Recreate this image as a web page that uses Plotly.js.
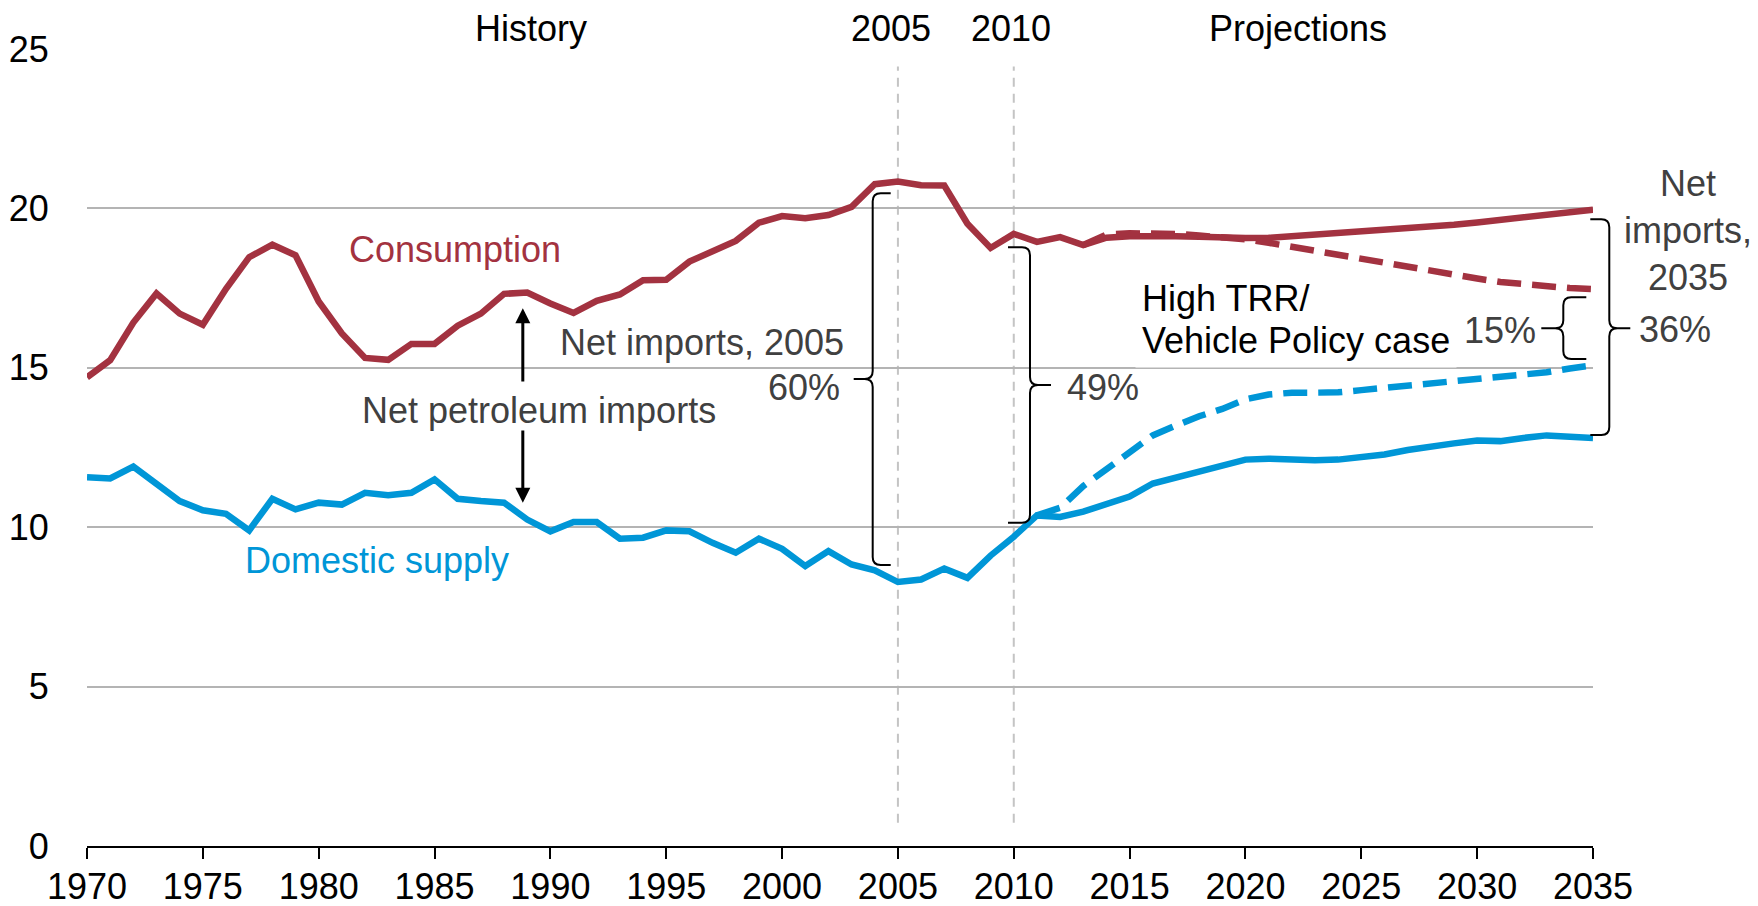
<!DOCTYPE html>
<html>
<head>
<meta charset="utf-8">
<script src="https://cdn.plot.ly/plotly-3.0.1.min.js"></script>
<style>
html,body{margin:0;padding:0;background:#ffffff;}
#chart{width:1758px;height:906px;}
</style>
</head>
<body>
<div id="chart"></div>
<script>
// ---------------- DATA ----------------
const years = [1970,1971,1972,1973,1974,1975,1976,1977,1978,1979,
  1980,1981,1982,1983,1984,1985,1986,1987,1988,1989,
  1990,1991,1992,1993,1994,1995,1996,1997,1998,1999,
  2000,2001,2002,2003,2004,2005,2006,2007,2008,2009,
  2010,2011,2012,2013,2014,2015,2016,2017,2018,2019,
  2020,2021,2022,2023,2024,2025,2026,2027,2028,2029,
  2030,2031,2032,2033,2034,2035];

const consumption = [14.70,15.24,16.42,17.33,16.70,16.35,17.48,18.47,18.86,18.53,
  17.08,16.08,15.31,15.25,15.75,15.75,16.32,16.70,17.32,17.36,
  17.02,16.72,17.10,17.30,17.75,17.76,18.33,18.67,18.98,19.55,
  19.76,19.69,19.79,20.05,20.76,20.84,20.73,20.72,19.52,18.76,
  19.20,18.95,19.10,18.85,19.08,19.13,19.15,19.13,19.11,19.08,
  19.07,19.08,19.13,19.16,19.20,19.25,19.31,19.38,19.44,19.49,
  19.56,19.63,19.70,19.78,19.87,19.96];

const domesticSupply = [11.57,11.53,11.90,11.34,10.82,10.53,10.42,9.90,10.89,10.56,
  10.77,10.71,11.08,11.00,11.08,11.50,10.89,10.82,10.77,10.24,
  9.87,10.16,10.16,9.64,9.67,9.90,9.87,9.51,9.20,9.64,
  9.32,8.78,9.25,8.83,8.65,8.28,8.36,8.70,8.41,9.11,
  9.70,10.37,10.32,10.49,10.70,10.96,11.37,11.55,11.76,11.95,
  12.12,12.15,12.12,12.10,12.12,12.18,12.28,12.42,12.54,12.63,
  12.72,12.70,12.80,12.88,12.84,12.80];

// High TRR / Vehicle Policy case
const yearsSupplyHigh = [2011,2012,2013,2014,2015,2016,2017,2018,2019,2020,
  2021,2022,2023,2024,2025,2026,2027,2028,2029,2030,
  2031,2032,2033,2034,2035];
const supplyHigh = [10.37,10.61,11.29,11.81,12.33,12.88,13.19,13.48,13.71,14.01,
  14.16,14.22,14.22,14.23,14.30,14.37,14.42,14.48,14.55,14.63,
  14.72,14.79,14.86,14.98,15.08];

const yearsConsHigh = [2013,2014,2015,2016,2017,2018,2019,2020,
  2021,2022,2023,2024,2025,2026,2027,2028,2029,2030,
  2031,2032,2033,2034,2035];
const consumptionHigh = [18.85,19.18,19.22,19.23,19.20,19.15,19.10,19.03,
  18.92,18.79,18.67,18.55,18.42,18.30,18.17,18.04,17.91,17.80,
  17.69,17.61,17.55,17.50,17.47];

const xTickVals = [1970,1975,1980,1985,1990,1995,2000,2005,2010,2015,2020,2025,2030,2035];
const yTickVals = [0,5,10,15,20,25];

// ---------------- STYLE ----------------
const RED = '#A33240';
const BLUE = '#0096D7';
const GRAY_TXT = '#404040';
const FONT = 'Liberation Sans, Arial, sans-serif';
const FS = 36;

// plot area in pixels (from margins)
const PL = 87, PR = 1593, PT = 49, PB = 846;
const W = 1758, H = 906;
function px(x){ return (x - PL) / (PR - PL); }
function py(y){ return (PB - y) / (PB - PT); }

// ---------------- TRACES ----------------
const traces = [
  {x: years, y: consumption, type: 'scatter', mode: 'lines',
   line: {color: RED, width: 6.5}, hoverinfo: 'skip'},
  {x: years, y: domesticSupply, type: 'scatter', mode: 'lines',
   line: {color: BLUE, width: 6.5}, hoverinfo: 'skip'},
  {x: yearsConsHigh, y: consumptionHigh, type: 'scatter', mode: 'lines',
   line: {color: RED, width: 6.5, dash: '24px,11px'}, hoverinfo: 'skip'},
  {x: yearsSupplyHigh, y: supplyHigh, type: 'scatter', mode: 'lines',
   line: {color: BLUE, width: 6.5, dash: '24px,11px'}, hoverinfo: 'skip'}
];

// ---------------- ANNOTATIONS ----------------
function txt(text, x, y, color, opts){
  return Object.assign({
    text: text, xref: 'paper', yref: 'paper', x: px(x), y: py(y),
    xanchor: 'center', yanchor: 'middle', showarrow: false,
    font: {family: FONT, size: FS, color: color}
  }, opts || {});
}

const annotations = [
  txt('History', 531, 28, '#000000'),
  txt('2005', 891, 28, '#000000'),
  txt('2010', 1011, 28, '#000000'),
  txt('Projections', 1298, 28, '#000000'),
  txt('Consumption', 455, 250, RED),
  txt('Domestic supply', 377, 560, BLUE),
  txt('Net imports, 2005', 702, 342, GRAY_TXT),
  txt('60%', 804, 387, GRAY_TXT),
  txt('Net petroleum imports', 539, 410, GRAY_TXT),
  txt('49%', 1103, 387, GRAY_TXT),
  txt('Vehicle Policy case', 1135, 341, '#000000', {xanchor: 'left', bgcolor: '#ffffff', borderpad: 6}),
  txt('High TRR/', 1140, 298, '#000000', {xanchor: 'left'}),
  txt('15%', 1500, 330, GRAY_TXT),
  txt('36%', 1675, 329, GRAY_TXT),
  txt('Net<br>imports,<br>2035', 1688, 231, GRAY_TXT),
  // double arrow (two halves around the label)
  {text: '', xref: 'x', yref: 'y', axref: 'x', ayref: 'y',
   x: 1988.81, y: 16.87, ax: 1988.81, ay: 14.52,
   showarrow: true, arrowhead: 2, arrowsize: 1, arrowwidth: 3, arrowcolor: '#000000',
   standoff: 0, startstandoff: 0},
  {text: '', xref: 'x', yref: 'y', axref: 'x', ayref: 'y',
   x: 1988.81, y: 10.77, ax: 1988.81, ay: 13.08,
   showarrow: true, arrowhead: 2, arrowsize: 1, arrowwidth: 3, arrowcolor: '#000000',
   standoff: 0, startstandoff: 0}
];

// ---------------- SHAPES ----------------
function P(x, y){ return px(x).toFixed(5) + ',' + py(y).toFixed(5); }
// hookDir: +1 => hooks point right, tip points left ( "{" ); -1 => "}"
function brace(xLine, yTop, yBot, yMid, hookDir, hookLen, tipLen){
  const r = 8;
  const d = hookDir;
  const p = [
    'M', P(xLine + d*hookLen, yTop),
    'L', P(xLine + d*r, yTop),
    'Q', P(xLine, yTop), P(xLine, yTop + r),
    'L', P(xLine, yMid - r),
    'Q', P(xLine, yMid), P(xLine - d*r, yMid),
    'L', P(xLine - d*tipLen, yMid),
    'M', P(xLine - d*r, yMid),
    'Q', P(xLine, yMid), P(xLine, yMid + r),
    'L', P(xLine, yBot - r),
    'Q', P(xLine, yBot), P(xLine + d*r, yBot),
    'L', P(xLine + d*hookLen, yBot)
  ].join(' ');
  return {type: 'path', xref: 'paper', yref: 'paper', path: p,
          line: {color: '#000000', width: 2}, layer: 'above'};
}

const shapes = [
  {type: 'line', xref: 'x', yref: 'y', x0: 2005, x1: 2005, y0: 0.73, y1: 24.45,
   line: {color: '#c4c4c4', width: 2, dash: '9px,7px'}, layer: 'below'},
  {type: 'line', xref: 'x', yref: 'y', x0: 2010, x1: 2010, y0: 0.73, y1: 24.45,
   line: {color: '#c4c4c4', width: 2, dash: '9px,7px'}, layer: 'below'},
  brace(872.7, 193.3, 565, 379, +1, 18, 19),
  brace(1030, 247.3, 522.7, 385, -1, 22, 21),
  brace(1563.3, 297.3, 359, 328.3, +1, 23, 22),
  brace(1609.3, 219.3, 435, 328.3, -1, 19, 21)
];

// ---------------- LAYOUT ----------------
const layout = {
  width: W, height: H,
  margin: {l: PL, r: W - PR, t: PT, b: H - PB, pad: 0},
  paper_bgcolor: '#ffffff', plot_bgcolor: '#ffffff',
  showlegend: false,
  font: {family: FONT, size: FS, color: '#000000'},
  xaxis: {
    range: [1970, 2035], tickmode: 'array', tickvals: xTickVals,
    ticktext: xTickVals.map(String),
    showgrid: false, zeroline: false,
    showline: true, linecolor: '#000000', linewidth: 2,
    ticks: 'outside', ticklen: 11, tickwidth: 2, tickcolor: '#000000',
    ticklabelstandoff: -3,
    tickfont: {family: FONT, size: FS, color: '#000000'},
    fixedrange: true
  },
  yaxis: {
    range: [0, 25], tickmode: 'array', tickvals: yTickVals,
    ticktext: yTickVals.map(String),
    showgrid: true, gridcolor: '#b4b4b4', gridwidth: 2,
    zeroline: false, showline: false,
    ticks: 'outside', ticklen: 30, tickcolor: 'rgba(0,0,0,0)',
    tickfont: {family: FONT, size: FS, color: '#000000'},
    fixedrange: true
  },
  annotations: annotations,
  shapes: shapes
};

Plotly.newPlot('chart', traces, layout, {displayModeBar: false, staticPlot: true});
</script>
</body>
</html>
